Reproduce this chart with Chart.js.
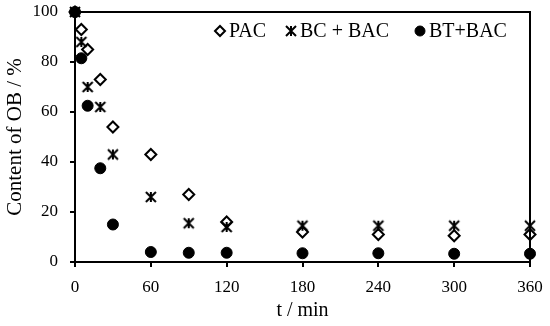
<!DOCTYPE html>
<html><head><meta charset="utf-8">
<script src="https://cdn.jsdelivr.net/npm/chart.js@4/dist/chart.umd.min.js"></script>
<style>html,body{margin:0;padding:0;background:#fff}#wrap{width:550px;height:326px}</style>
</head><body><div id="wrap"><canvas id="c" width="550" height="326"></canvas></div>
<script>
const times = [0, 5, 10, 20, 30, 60, 90, 120, 180, 240, 300, 360];
const pacValues = [100, 93, 85, 73, 54, 43, 27, 16, 12, 11, 10.5, 11];
const bcBacValues = [100, 88, 70, 62, 43, 26, 15.5, 14, 14.5, 14.5, 14.5, 14.5];
const btBacValues = [100, 81.5, 62.5, 37.5, 15, 4, 3.7, 3.7, 3.5, 3.5, 3.3, 3.3];
const seriesLabels = ['PAC', 'BC + BAC', 'BT+BAC'];
const xTickValues = [0, 60, 120, 180, 240, 300, 360];
const yTickValues = [0, 20, 40, 60, 80, 100];
const xTitle = 't / min';
const yTitle = 'Content of OB / %';

const FONT = '"Liberation Serif", "Times New Roman", serif';

function makeAsterisk(half, lw) {
  const size = Math.ceil(2 * half + lw + 2);
  const c = document.createElement('canvas');
  c.width = size; c.height = size;
  const g = c.getContext('2d');
  const m = size / 2;
  g.strokeStyle = '#000';
  g.lineWidth = lw;
  g.beginPath();
  g.moveTo(m, m - half); g.lineTo(m, m + half);
  g.moveTo(m - half, m - half); g.lineTo(m + half, m + half);
  g.moveTo(m + half, m - half); g.lineTo(m - half, m + half);
  g.stroke();
  return c;
}
const asterisk = makeAsterisk(5, 2);

function pts(vals) { return times.map((t, i) => ({x: t, y: vals[i]})); }

const frame = {
  id: 'frame',
  afterDraw(chart) {
    const {ctx, chartArea: a} = chart;
    ctx.save();
    ctx.strokeStyle = '#000';
    ctx.lineWidth = 2;
    ctx.strokeRect(a.left, a.top, a.right - a.left, a.bottom - a.top);
    ctx.restore();
  }
};

const insideLegend = {
  id: 'insideLegend',
  afterDraw(chart) {
    const {ctx, chartArea: a} = chart;
    const markerX = [a.left + 145, a.left + 216, a.left + 345];
    const legendRadius = [5, 6, 5];
    const y = a.top + 19;
    ctx.save();
    chart.data.datasets.forEach((ds, i) => {
      ctx.fillStyle = ds.pointBackgroundColor;
      ctx.strokeStyle = ds.pointBorderColor;
      ctx.lineWidth = ds.pointBorderWidth;
      Chart.helpers.drawPoint(ctx, {
        pointStyle: ds.pointStyle, radius: legendRadius[i], rotation: 0,
        borderWidth: ds.pointBorderWidth
      }, markerX[i], y);
      ctx.font = '20px ' + FONT;
      ctx.textBaseline = 'middle';
      ctx.textAlign = 'left';
      ctx.fillStyle = '#000';
      ctx.fillText(ds.label, markerX[i] + 9, y + 1);
    });
    ctx.restore();
  }
};

function noEdgePadding(s) {
  s.paddingTop = 0; s.paddingBottom = 0; s.paddingLeft = 0; s.paddingRight = 0;
}

new Chart(document.getElementById('c'), {
  type: 'scatter',
  data: {
    datasets: [
      {label: seriesLabels[0], data: pts(pacValues), pointStyle: 'rectRot', pointRadius: 5.5,
       pointBorderWidth: 2, pointBorderColor: '#000', pointBackgroundColor: '#fff', showLine: false, clip: false, order: 3},
      {label: seriesLabels[1], data: pts(bcBacValues), pointStyle: asterisk, pointRadius: 6,
       pointBorderWidth: 2, pointBorderColor: '#000', pointBackgroundColor: '#000', showLine: false, clip: false, order: 2},
      {label: seriesLabels[2], data: pts(btBacValues), pointStyle: 'circle', pointRadius: 5.5,
       pointBorderWidth: 1, pointBorderColor: '#000', pointBackgroundColor: '#000', showLine: false, clip: false, order: 1}
    ]
  },
  options: {
    responsive: false, animation: false, devicePixelRatio: 1,
    layout: {padding: {left: 0, right: 20, top: 12, bottom: 0}},
    plugins: {legend: {display: false}, tooltip: {enabled: false}},
    scales: {
      x: {
        type: 'linear', min: 0, max: 360,
        afterBuildTicks: s => { s.ticks = xTickValues.map(v => ({value: v})); },
        afterFit: s => { s.height = 64; noEdgePadding(s); },
        grid: {drawOnChartArea: false, drawTicks: true, tickLength: 5, color: '#000', lineWidth: 2},
        border: {display: true, color: '#000', width: 2},
        ticks: {color: '#000', font: {family: FONT, size: 17}, padding: 10, maxRotation: 0},
        title: {display: true, text: xTitle, color: '#000', font: {family: FONT, size: 20}, padding: {top: 0, bottom: 3}}
      },
      y: {
        type: 'linear', min: 0, max: 100,
        afterBuildTicks: s => { s.ticks = yTickValues.map(v => ({value: v})); },
        afterFit: s => { s.width = 75; noEdgePadding(s); },
        grid: {drawOnChartArea: false, drawTicks: true, tickLength: 5, color: '#000', lineWidth: 2},
        border: {display: true, color: '#000', width: 2},
        ticks: {color: '#000', font: {family: FONT, size: 17}, padding: 12},
        title: {display: true, text: yTitle, color: '#000', font: {family: FONT, size: 21}, padding: {top: 3, bottom: 0}}
      }
    }
  },
  plugins: [frame, insideLegend]
});
</script></body></html>
